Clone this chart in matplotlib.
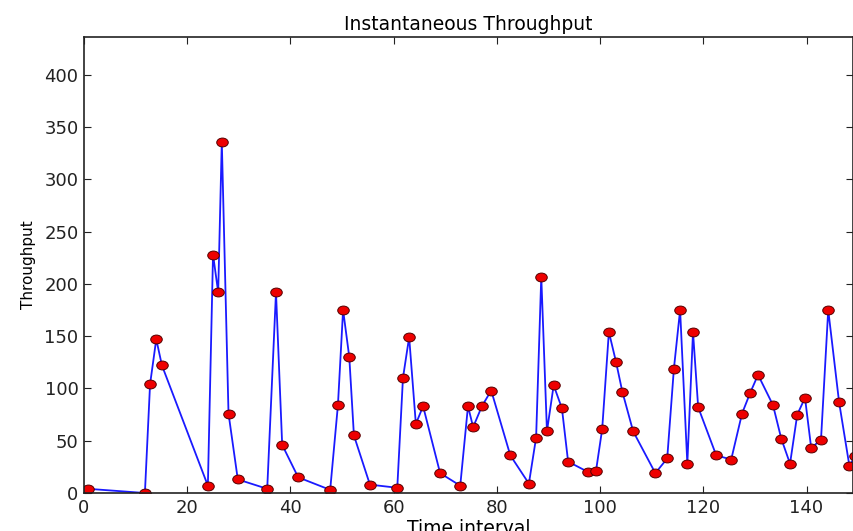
import numpy as np
import matplotlib
matplotlib.use("Agg")
import matplotlib.pyplot as plt
from matplotlib.path import Path
from matplotlib.transforms import Affine2D

# time interval (x) and throughput (y)
time_interval = [0.8, 11.8, 12.8, 14.0, 15.1, 24.0, 25.0, 26.0, 26.7, 28.0,
                 29.8, 35.5, 37.2, 38.4, 41.5, 47.7, 49.2, 50.2, 51.4, 52.3,
                 55.4, 60.7, 61.8, 63.0, 64.3, 65.7, 69.0, 72.9, 74.4, 75.4,
                 77.1, 78.9, 82.6, 86.2, 87.6, 88.6, 89.7, 91.0, 92.6, 93.8,
                 97.7, 99.2, 100.4, 101.7, 103.1, 104.3, 106.4, 110.7, 113.0, 114.3,
                 115.5, 116.9, 118.0, 119.0, 122.5, 125.4, 127.5, 129.1, 130.6, 133.5,
                 135.1, 136.8, 138.2, 139.7, 140.9, 142.8, 144.2, 146.3, 148.3, 149.4]
throughput = [4, 0, 104, 147, 122, 7, 228, 192, 336, 76,
              13, 4, 192, 46, 15, 3, 84, 175, 130, 55,
              8, 5, 110, 149, 66, 83, 19, 7, 83, 63,
              83, 98, 36, 9, 53, 207, 59, 103, 81, 30,
              20, 21, 61, 154, 125, 97, 59, 19, 33, 119,
              175, 28, 154, 82, 36, 32, 76, 96, 113, 84,
              52, 28, 75, 91, 43, 51, 175, 87, 26, 35]

plt.rcParams['font.family'] = ['DejaVu Sans']
plt.rcParams['xtick.direction'] = 'in'
plt.rcParams['ytick.direction'] = 'in'
plt.rcParams['xtick.top'] = True
plt.rcParams['ytick.right'] = True

# the markers look slightly squashed in the reference
ellipse = Path.unit_circle().transformed(Affine2D().scale(1.3, 1.0))

fig = plt.figure(figsize=(8.54, 5.31), dpi=100)
ax = fig.add_axes([84 / 854, 38 / 531, 769 / 854, 456 / 531])
ax.plot(time_interval, throughput, color='#1a1aff', linewidth=1.3,
        marker=ellipse, markersize=8.3, markerfacecolor='#ee0000',
        markeredgecolor='#550000', markeredgewidth=0.7)

ax.set_xlim(0, 149)
ax.set_ylim(0, 436)
ax.set_xticks([0, 20, 40, 60, 80, 100, 120, 140])
ax.set_yticks([0, 50, 100, 150, 200, 250, 300, 350, 400])
ax.tick_params(labelsize=13, length=5, width=0.8, colors='#222222', pad=4)
for s in ax.spines.values():
    s.set_linewidth(1.2)
    s.set_color('#222222')

ax.set_title('Instantaneous Throughput', fontsize=13.5, pad=5)
ax.set_xlabel('Time interval', fontsize=13.5, labelpad=2)
ax.set_ylabel('Throughput', fontsize=11, labelpad=6)

fig.savefig('out.png', dpi=100)
